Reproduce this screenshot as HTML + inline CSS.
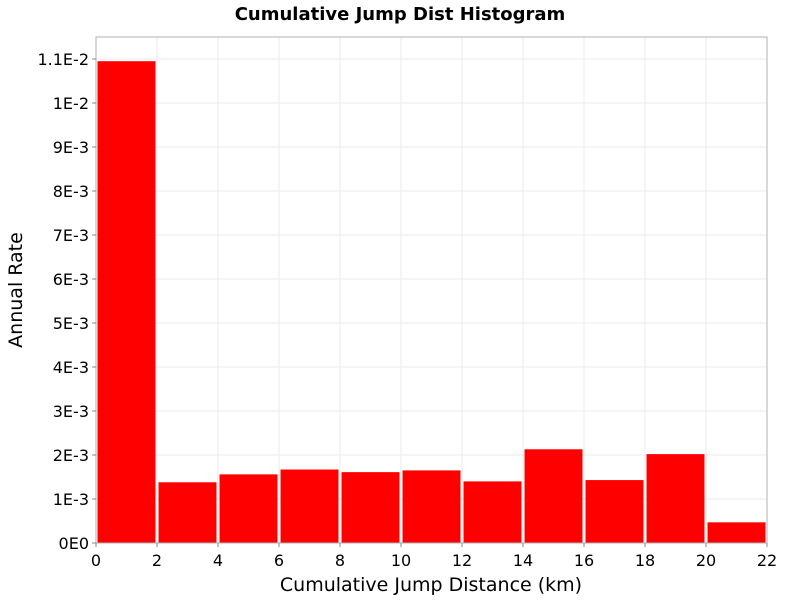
<!DOCTYPE html>
<html><head><meta charset="utf-8"><style>
body{margin:0;background:#fff;font-family:"DejaVu Sans","Liberation Sans",sans-serif}
</style></head><body>
<svg id="chart" width="800" height="600" xmlns="http://www.w3.org/2000/svg"></svg>
<script>
const binStarts=[0,2,4,6,8,10,12,14,16,18,20];
const binWidth=2;
const rates=[0.01095,0.00138,0.00156,0.00167,0.00161,0.00165,0.00140,0.00213,0.00143,0.00202,0.00047];
const xTicks=[0,2,4,6,8,10,12,14,16,18,20,22];
const yTicks=[0,0.001,0.002,0.003,0.004,0.005,0.006,0.007,0.008,0.009,0.010,0.011];
const yTickLabels=["0E0","1E-3","2E-3","3E-3","4E-3","5E-3","6E-3","7E-3","8E-3","9E-3","1E-2","1.1E-2"];
const L=96,R=767,T=37,B=543,xMax=22,yMax=0.0115;
const X=v=>L+(R-L)*v/xMax;
const Y=v=>B-(B-T)*v/yMax;
const svg=document.getElementById('chart');
const NS='http://www.w3.org/2000/svg';
function mk(tag,attrs,name,text){const e=document.createElementNS(NS,tag);for(const k in attrs)e.setAttribute(k,attrs[k]);


if(text!==undefined)e.textContent=text;svg.appendChild(e);return e;}
mk('rect',{x:L,y:T,width:R-L,height:B-T,fill:'#fff'},'plot-area');
xTicks.forEach(t=>{mk('line',{x1:X(t),x2:X(t),y1:T,y2:B,stroke:'#ebebeb'},'x-gridline');});
yTicks.forEach(t=>{mk('line',{x1:L,x2:R,y1:Y(t),y2:Y(t),stroke:'#ebebeb'},'y-gridline');});
rates.forEach((v,i)=>{const x0=X(binStarts[i]+0.05),x1=X(binStarts[i]+binWidth-0.05);
mk('rect',{x:x0,y:Y(v),width:x1-x0,height:B-Y(v),fill:'#ff0000'},'bar-'+i);});
mk('rect',{x:L,y:T,width:R-L,height:B-T,fill:'none',stroke:'#b0b0b0'},'plot-border');
xTicks.forEach(t=>{mk('line',{x1:X(t),x2:X(t),y1:B,y2:B+4,stroke:'#888'},'x-tick');
mk('text',{x:X(t),y:B+23,'text-anchor':'middle','font-size':16,fill:'#000'},'x-tick-label',String(t));});
yTicks.forEach((t,i)=>{mk('line',{x1:L-4,x2:L,y1:Y(t),y2:Y(t),stroke:'#888'},'y-tick');
mk('text',{x:L-7,y:Y(t)+6,'text-anchor':'end','font-size':16,fill:'#000'},'y-tick-label',yTickLabels[i]);});
mk('text',{x:400,y:20,'text-anchor':'middle','font-size':18,'font-weight':'bold',fill:'#000'},'chart-title','Cumulative Jump Dist Histogram');
mk('text',{x:431,y:591,'text-anchor':'middle','font-size':19,fill:'#000'},'x-axis-title','Cumulative Jump Distance (km)');
mk('text',{x:22,y:290,'text-anchor':'middle','font-size':19,fill:'#000',transform:'rotate(-90 22 290)'},'y-axis-title','Annual Rate');
</script>
</body></html>
